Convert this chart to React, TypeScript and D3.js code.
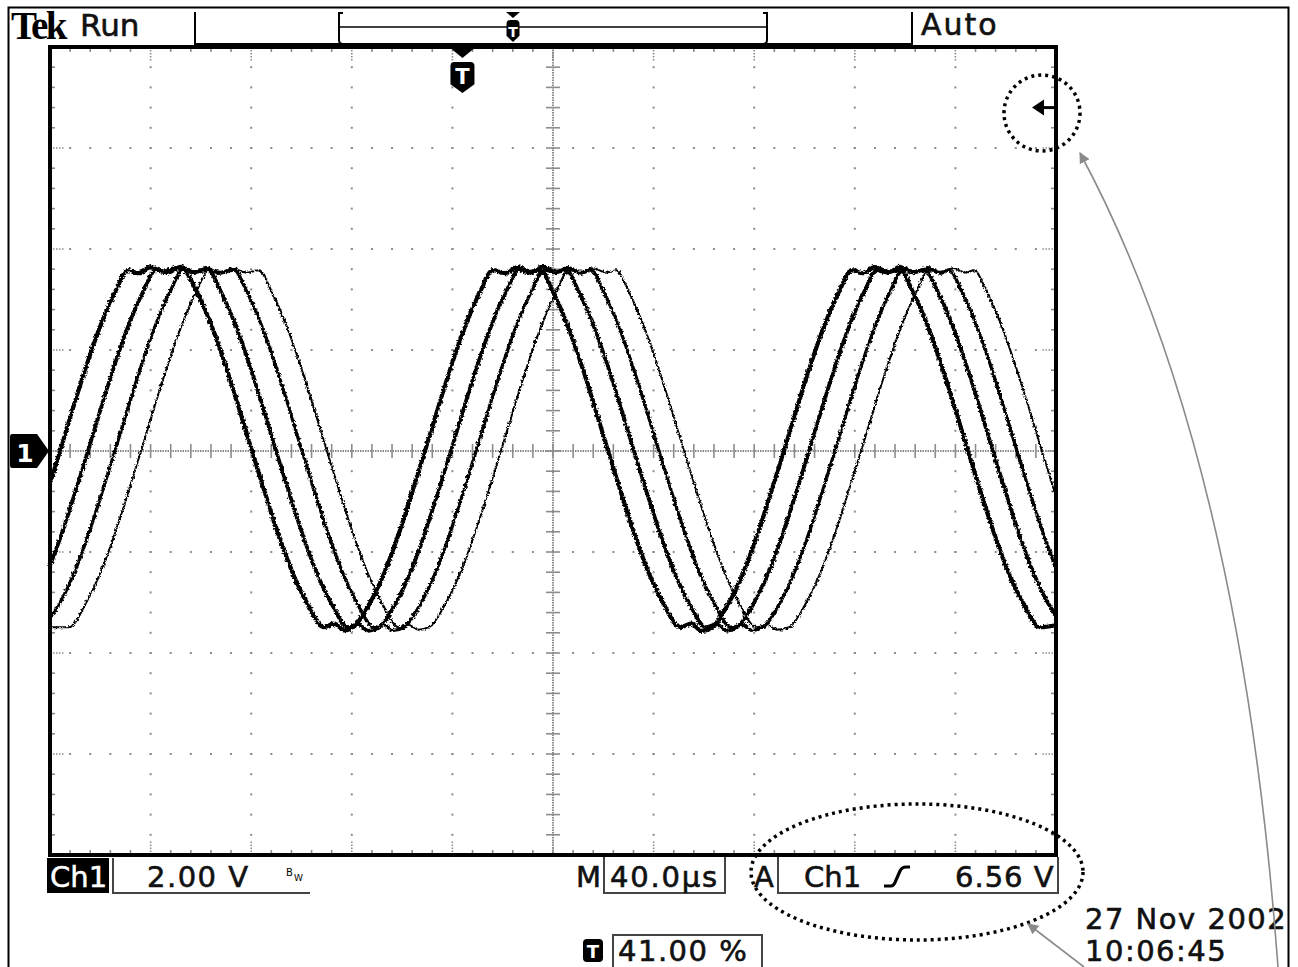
import React from "react";
import * as d3 from "d3";

// time in µs from left edge of screen, volts relative to ch1 ground
const trace1: [number, number][] = [
  [0, -0.64], [4.0, 0], [8.8, 0.79], [13.9, 1.6], [19.9, 2.46], [25.9, 3.15], [31.0, 3.58],
  [35, 3.52], [40, 3.64], [45, 3.55], [50, 3.62], [53.3, 3.58],
  [58.4, 3.15], [64.4, 2.46], [70.4, 1.6], [75.5, 0.79], [80.3, 0], [85.1, -0.77], [90.2, -1.56], [96.2, -2.38], [102.2, -3.01], [108.9, -3.49],
  [113, -3.42], [117, -3.55], [120.5, -3.49],
  [127.2, -3.01], [133.2, -2.38], [139.2, -1.56], [144.3, -0.77], [149.1, 0], [153.9, 0.79], [159.0, 1.6], [165.0, 2.46], [171.0, 3.15], [176.1, 3.58],
  [181, 3.52], [186, 3.64], [191, 3.55], [194.9, 3.58],
  [200.0, 3.15], [206.0, 2.46], [212.0, 1.6], [217.1, 0.79], [221.9, 0], [226.7, -0.77], [231.8, -1.56], [237.8, -2.38], [243.8, -3.01], [250.5, -3.49],
  [255, -3.42], [259, -3.56], [263.2, -3.49],
  [269.9, -3.01], [275.9, -2.38], [281.9, -1.56], [287.0, -0.77], [291.8, 0], [296.6, 0.79], [301.7, 1.6], [307.7, 2.46], [313.7, 3.15], [318.8, 3.58],
  [323, 3.52], [328, 3.64], [333, 3.55], [338, 3.58],
  [343.1, 3.15], [349.1, 2.46], [355.1, 1.6], [360.2, 0.79], [365.0, 0], [369.8, -0.77], [374.9, -1.56], [380.9, -2.38], [386.9, -3.01], [393.6, -3.49], [400, -3.45],
];

const trace2: [number, number][] = [
  [0, -2.27], [5.2, -1.56], [10.3, -0.77], [15.1, 0], [19.9, 0.79], [25.0, 1.6], [31.0, 2.46], [37.0, 3.15], [42.1, 3.58],
  [47, 3.53], [52, 3.65], [57, 3.54], [62.9, 3.58],
  [68.0, 3.15], [74.0, 2.46], [80.0, 1.6], [85.1, 0.79], [89.9, 0], [94.7, -0.77], [99.8, -1.56], [105.8, -2.38], [111.8, -3.01], [118.5, -3.49],
  [122.5, -3.43], [126.5, -3.56], [130.8, -3.49],
  [137.5, -3.01], [143.5, -2.38], [149.5, -1.56], [154.6, -0.77], [159.4, 0], [164.2, 0.79], [169.3, 1.6], [175.3, 2.46], [181.3, 3.15], [186.4, 3.58],
  [191, 3.53], [196, 3.65], [201, 3.54], [205.2, 3.58],
  [210.3, 3.15], [216.3, 2.46], [222.3, 1.6], [227.4, 0.79], [232.2, 0], [237.0, -0.77], [242.1, -1.56], [248.1, -2.38], [254.1, -3.01], [260.8, -3.49],
  [265, -3.43], [269, -3.56], [273.2, -3.49],
  [279.9, -3.01], [285.9, -2.38], [291.9, -1.56], [297.0, -0.77], [301.8, 0], [306.6, 0.79], [311.7, 1.6], [317.7, 2.46], [323.7, 3.15], [328.8, 3.58],
  [333, 3.53], [338, 3.65], [343, 3.54], [347.9, 3.58],
  [353.0, 3.15], [359.0, 2.46], [365.0, 1.6], [370.1, 0.79], [374.9, 0], [379.7, -0.77], [384.8, -1.56], [390.8, -2.38], [396.8, -3.01], [400, -3.25],
];

const trace3: [number, number][] = [
  [0, -3.3], [3.9, -3.01], [9.9, -2.38], [15.9, -1.56], [21.0, -0.77], [25.8, 0], [30.6, 0.79], [35.7, 1.6], [41.7, 2.46], [47.7, 3.15], [52.8, 3.58],
  [57, 3.54], [62, 3.63], [67, 3.52], [73.2, 3.58],
  [78.3, 3.15], [84.3, 2.46], [90.3, 1.6], [95.4, 0.79], [100.2, 0], [105.0, -0.77], [110.1, -1.56], [116.1, -2.38], [122.1, -3.01], [128.8, -3.49],
  [132.5, -3.44], [136.5, -3.55], [140.8, -3.49],
  [147.5, -3.01], [153.5, -2.38], [159.5, -1.56], [164.6, -0.77], [169.4, 0], [174.2, 0.79], [179.3, 1.6], [185.3, 2.46], [191.3, 3.15], [196.4, 3.58],
  [201, 3.54], [206, 3.63], [211, 3.52], [215.1, 3.58],
  [220.2, 3.15], [226.2, 2.46], [232.2, 1.6], [237.3, 0.79], [242.1, 0], [246.9, -0.77], [252.0, -1.56], [258.0, -2.38], [264.0, -3.01], [270.7, -3.49],
  [275, -3.44], [279, -3.55], [283.5, -3.49],
  [290.2, -3.01], [296.2, -2.38], [302.2, -1.56], [307.3, -0.77], [312.1, 0], [316.9, 0.79], [322.0, 1.6], [328.0, 2.46], [334.0, 3.15], [339.1, 3.58],
  [344, 3.54], [349, 3.63], [354, 3.52], [357.5, 3.58],
  [362.6, 3.15], [368.6, 2.46], [374.6, 1.6], [379.7, 0.79], [384.5, 0], [389.3, -0.77], [394.4, -1.56], [400, -2.32],
];

const trace4: [number, number][] = [
  [0, -3.49], [7.6, -3.49],
  [14.3, -3.01], [20.3, -2.38], [26.3, -1.56], [31.4, -0.77], [36.2, 0], [41.0, 0.79], [46.1, 1.6], [52.1, 2.46], [58.1, 3.15], [63.2, 3.58],
  [68, 3.55], [73, 3.62], [78, 3.53], [83.1, 3.58],
  [88.2, 3.15], [94.2, 2.46], [100.2, 1.6], [105.3, 0.79], [110.1, 0], [114.9, -0.77], [120.0, -1.56], [126.0, -2.38], [132.0, -3.01], [138.7, -3.49],
  [142.5, -3.44], [146.5, -3.54], [150.7, -3.49],
  [157.4, -3.01], [163.4, -2.38], [169.4, -1.56], [174.5, -0.77], [179.3, 0], [184.1, 0.79], [189.2, 1.6], [195.2, 2.46], [201.2, 3.15], [206.3, 3.58],
  [211, 3.55], [216, 3.62], [221, 3.53], [225.1, 3.58],
  [230.2, 3.15], [236.2, 2.46], [242.2, 1.6], [247.3, 0.79], [252.1, 0], [256.9, -0.77], [262.0, -1.56], [268.0, -2.38], [274.0, -3.01], [280.7, -3.49],
  [285, -3.44], [289, -3.54], [293.9, -3.49],
  [300.6, -3.01], [306.6, -2.38], [312.6, -1.56], [317.7, -0.77], [322.5, 0], [327.3, 0.79], [332.4, 1.6], [338.4, 2.46], [344.4, 3.15], [349.5, 3.58],
  [354, 3.55], [359, 3.62], [364, 3.53], [367.4, 3.58],
  [372.5, 3.15], [378.5, 2.46], [384.5, 1.6], [389.6, 0.79], [394.4, 0], [399.2, -0.77], [400, -0.9],
];

const traces = [trace1, trace2, trace3, trace4];
const traceWidths = [4.2, 3.8, 3.3, 2.0];

const timeDomain = [0, 400]; // 10 div x 40 µs
const voltDomain = [-8, 8]; // 8 div x 2 V
const trigPercent = 41.0;
const trigLevelMark = 6.8; // where the level arrow sits on screen

const headerLeft = ["Tek", "Run"];
const headerRight = "Auto";
const chLabel = "Ch1";
const voltsPerDiv = "2.00 V";
const timePerDiv = "40.0µs";
const trigSource = "Ch1";
const trigLevel = "6.56 V";
const trigPosText = "41.00 %";
const dateLines = ["27 Nov 2002", "10:06:45"];

const SANS = "'DejaVu Sans', Verdana, sans-serif";

export default function App() {
  const W = 1298;
  const H = 967;
  const x = d3.scaleLinear().domain(timeDomain).range([50, 1056]);
  const y = d3.scaleLinear().domain(voltDomain).range([855, 47]);
  const X0 = x(0), X1 = x(400), Y0 = y(8), Y1 = y(-8);
  const xc = x(200), yc = y(0);

  const majorT = d3.range(0, 401, 40);
  const minorT = d3.range(0, 400.01, 8);
  const majorV = d3.range(-8, 8.01, 2);
  const minorV = d3.range(-8, 8.001, 0.4);

  const line = d3
    .line<[number, number]>()
    .x((d) => x(d[0]))
    .y((d) => y(d[1]))
    .curve(d3.curveMonotoneX);

  const grey = "#8c8c8c";
  const dots: JSX.Element[] = [];
  majorT.filter((t) => t > 0 && t < 400 && t !== 200).forEach((t) => {
    minorV.filter((v) => v > -8 && v < 8).forEach((v, i) => {
      dots.push(<rect key={`dv${t}-${i}`} x={x(t) - 1} y={y(v) - 1} width={2} height={2} fill={grey} />);
    });
  });
  majorV.filter((v) => v > -8 && v < 8 && v !== 0).forEach((v) => {
    minorT.filter((t) => t > 0 && t < 400).forEach((t, i) => {
      dots.push(<rect key={`dh${v}-${i}`} x={x(t) - 1} y={y(v) - 1} width={2} height={2} fill={grey} />);
    });
  });

  const ticks: JSX.Element[] = [];
  minorT.filter((t) => t > 0 && t < 400).forEach((t, i) => {
    const major = majorT.includes(Math.round(t));
    const len = major ? 14 : 5;
    const dash = major ? "1.5 1.5" : undefined;
    ticks.push(<line key={`tt${i}`} x1={x(t)} x2={x(t)} y1={Y0} y2={Y0 + len} stroke={grey} strokeWidth={1.6} strokeDasharray={dash} />);
    ticks.push(<line key={`tb${i}`} x1={x(t)} x2={x(t)} y1={Y1} y2={Y1 - len} stroke={grey} strokeWidth={1.6} strokeDasharray={dash} />);
    ticks.push(<line key={`tc${i}`} x1={x(t)} x2={x(t)} y1={yc - 7} y2={yc + 7} stroke={grey} strokeWidth={1.6} />);
  });
  minorV.filter((v) => v > -8 && v < 8).forEach((v, i) => {
    const major = Math.abs(v / 2 - Math.round(v / 2)) < 1e-6;
    const len = major ? 14 : 5;
    const dash = major ? "1.5 1.5" : undefined;
    ticks.push(<line key={`vl${i}`} x1={X0} x2={X0 + len} y1={y(v)} y2={y(v)} stroke={grey} strokeWidth={1.6} strokeDasharray={dash} />);
    ticks.push(<line key={`vr${i}`} x1={X1} x2={X1 - len} y1={y(v)} y2={y(v)} stroke={grey} strokeWidth={1.6} strokeDasharray={dash} />);
    ticks.push(<line key={`vc${i}`} x1={xc - 7} x2={xc + 7} y1={y(v)} y2={y(v)} stroke={grey} strokeWidth={1.6} />);
  });

  const trigX = X0 + (trigPercent / 100) * (X1 - X0);
  const shield = (cx: number, top: number, w: number, h: number) => {
    const hw = w / 2;
    return `M${cx - hw},${top + 4} Q${cx - hw},${top} ${cx - hw + 4},${top} L${cx + hw - 4},${top} Q${cx + hw},${top} ${cx + hw},${top + 4} L${cx + hw},${top + h * 0.72} L${cx},${top + h} L${cx - hw},${top + h * 0.72} Z`;
  };

  const trigY = y(trigLevelMark);
  const ro = { fontSize: 29, stroke: "#111", strokeWidth: 0.6, fill: "#111" };

  return (
    <svg
      width={W}
      height={H}
      style={{ position: "absolute", left: 0, top: 0, background: "#fff" }}
      fontFamily={SANS}
    >
      <defs>
        <filter id="noise" x="-2%" y="-5%" width="104%" height="110%">
          <feTurbulence type="fractalNoise" baseFrequency="0.45" numOctaves={2} seed={4} result="n" />
          <feDisplacementMap in="SourceGraphic" in2="n" scale={4} xChannelSelector="R" yChannelSelector="G" />
        </filter>
        <marker id="gh" viewBox="0 0 10 10" refX={9} refY={5} markerWidth={11} markerHeight={11} orient="auto-start-reverse" markerUnits="userSpaceOnUse">
          <path d="M0,0 L10,5 L0,10 Z" fill="#8a8a8a" />
        </marker>
      </defs>

      {/* outer frame */}
      <path d={`M8.5,${H} L8.5,7.5 L1288.5,7.5 L1288.5,${H}`} fill="none" stroke="#000" strokeWidth={2} />

      {/* header */}
      <text x={11} y={39} fontFamily="'Liberation Serif', serif" fontWeight="bold" fontSize={39} letterSpacing={-2.5}>
        {headerLeft[0]}
      </text>
      <text x={80} y={36} {...ro} fontSize={31}>{headerLeft[1]}</text>
      <line x1={195} x2={195} y1={12} y2={45} stroke="#000" strokeWidth={2} />
      <line x1={912} x2={912} y1={12} y2={45} stroke="#000" strokeWidth={2} />
      <line x1={195} x2={912} y1={44.5} y2={44.5} stroke="#000" strokeWidth={3} />
      <text x={921} y={35} {...ro} fontSize={30} letterSpacing={2}>{headerRight}</text>

      {/* record bar */}
      <line x1={339} x2={767} y1={27} y2={27} stroke="#000" strokeWidth={1.5} />
      <path d="M343,13 L339,13 L339,40 Q339,44 343,44" fill="none" stroke="#000" strokeWidth={2} />
      <path d="M763,13 L767,13 L767,40 Q767,44 763,44" fill="none" stroke="#000" strokeWidth={2} />
      <path d="M506,12 L520,12 L513,18 Z" fill="#000" />
      <path d={shield(513, 20, 13, 22)} fill="#000" />
      <text x={513} y={37} fontSize={14} fontWeight="bold" fill="#fff" textAnchor="middle">T</text>

      {/* graticule */}
      {dots}
      <line x1={xc} x2={xc} y1={Y0} y2={Y1} stroke={grey} strokeWidth={2} strokeDasharray="1.5 1" />
      <line x1={X0} x2={X1} y1={yc} y2={yc} stroke={grey} strokeWidth={2} strokeDasharray="1.5 1" />
      {ticks}

      {/* waveforms */}
      <g filter="url(#noise)">
        {traces.map((tr, i) => (
          <path key={i} d={line(tr) || ""} fill="none" stroke="#000" strokeWidth={traceWidths[i]} strokeLinejoin="round" />
        ))}
      </g>

      <rect x={X0} y={Y0} width={X1 - X0} height={Y1 - Y0} fill="none" stroke="#000" strokeWidth={4} />

      {/* trigger position marker */}
      <path d={`M${trigX - 11},49 L${trigX + 11},49 L${trigX},58 Z`} fill="#000" />
      <path d={shield(trigX, 62, 24, 31)} fill="#000" />
      <text x={trigX} y={84} fontSize={21} fontWeight="bold" fill="#fff" textAnchor="middle">T</text>

      {/* ch1 ground marker */}
      <path d="M12,434 L37,434 L49,451 L37,468 L12,468 Q10,468 10,465 L10,437 Q10,434 12,434 Z" fill="#000" />
      <text x={25} y={462} fontSize={25} fontWeight="bold" fill="#fff" textAnchor="middle">1</text>

      {/* trigger level arrow */}
      <path d={`M1032,${trigY} L1044,${trigY - 8} L1044,${trigY + 8} Z`} fill="#000" />
      <line x1={1042} x2={1055} y1={trigY} y2={trigY} stroke="#000" strokeWidth={3} />

      {/* bottom readouts */}
      <rect x={47} y={858} width={62} height={35} fill="#000" />
      <text x={50} y={887} fontSize={29} fill="#fff" stroke="#fff" strokeWidth={0.5}>{chLabel}</text>
      <path d="M113,858 L113,893 L310,893" fill="none" stroke="#444" strokeWidth={2} />
      <text x={147} y={887} {...ro} letterSpacing={1.5}>{voltsPerDiv}</text>
      <text x={286} y={876} fontSize={10}>B</text>
      <text x={294} y={881} fontSize={9}>W</text>

      <text x={576} y={887} {...ro}>M</text>
      <path d="M604,857 L604,893 L725,893 L725,857" fill="none" stroke="#444" strokeWidth={2} />
      <text x={610} y={887} {...ro} letterSpacing={1.8}>{timePerDiv}</text>

      <text x={754} y={887} {...ro}>A</text>
      <path d="M778,857 L778,893 L1058,893 L1058,857" fill="none" stroke="#444" strokeWidth={2} />
      <text x={804} y={887} {...ro}>{trigSource}</text>
      <path d="M884,886 L891,886 Q894,886 896,880 L900,871 Q902,867 906,867 L910,867" fill="none" stroke="#000" strokeWidth={3.2} />
      <text x={955} y={887} {...ro} letterSpacing={1}>{trigLevel}</text>

      <rect x={583} y={939} width={20} height={23} rx={4} fill="#000" />
      <text x={593} y={958} fontSize={18} fontWeight="bold" fill="#fff" textAnchor="middle">T</text>
      <path d={`M613,${H} L613,935 L762,935 L762,${H}`} fill="none" stroke="#444" strokeWidth={2} />
      <text x={618} y={961} {...ro} letterSpacing={1.5}>{trigPosText}</text>

      <text x={1085} y={929} {...ro} letterSpacing={1.5}>{dateLines[0]}</text>
      <text x={1085} y={961} {...ro} letterSpacing={1.5}>{dateLines[1]}</text>

      {/* annotations */}
      <circle cx={1042} cy={113} r={38} fill="none" stroke="#000" strokeWidth={3.5} strokeDasharray="3 4" />
      <ellipse cx={917} cy={872} rx={166} ry={68} fill="none" stroke="#000" strokeWidth={3.5} strokeDasharray="3 4" />
      <path d="M1278,967 Q1240,450 1080,153" fill="none" stroke="#8a8a8a" strokeWidth={1.6} markerEnd="url(#gh)" />
      <path d="M1084,967 L1028,924" fill="none" stroke="#8a8a8a" strokeWidth={1.6} markerEnd="url(#gh)" />
    </svg>
  );
}
